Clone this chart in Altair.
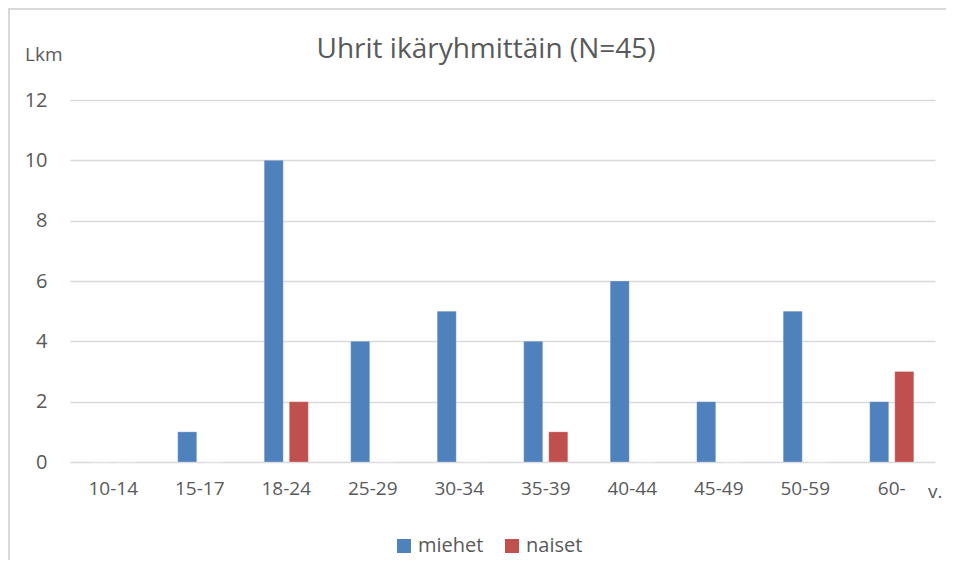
import altair as alt
import pandas as pd

categories = ["10-14", "15-17", "18-24", "25-29", "30-34", "35-39", "40-44", "45-49", "50-59", "60-"]
miehet = [0, 1, 10, 4, 5, 4, 6, 2, 5, 2]
naiset = [0, 0, 2, 0, 0, 1, 0, 0, 0, 3]
series = ["miehet", "naiset"]
colors = ["#4F81BD", "#C0504D"]
y_ticks = [0, 2, 4, 6, 8, 10, 12]
title_text = ["Uhrit ikäryhmittäin (N=45)"]

rows = []
for c, m, n in zip(categories, miehet, naiset):
    rows.append({"ika": c, "sarja": "miehet", "lkm": m})
    rows.append({"ika": c, "sarja": "naiset", "lkm": n})
df = pd.DataFrame(rows)

FONT = "Open Sans"
GRAY = "#595959"
GRID = "#D9D9D9"

bars = alt.Chart(df).mark_bar(stroke="#FFFFFF", strokeOpacity=0.25, strokeWidth=1).encode(
    x=alt.X("ika:N", sort=categories,
            scale=alt.Scale(paddingInner=0.49, paddingOuter=0.245),
            axis=alt.Axis(title=None, labelAngle=0, domain=False, ticks=False,
                          labelPadding=17, labelFontSize=19, labelColor=GRAY,
                          labelFont=FONT)),
    xOffset=alt.XOffset("sarja:N", sort=series,
                        scale=alt.Scale(paddingInner=0.24, paddingOuter=0)),
    y=alt.Y("lkm:Q", scale=alt.Scale(domain=[0, 12]),
            axis=alt.Axis(title=None, values=y_ticks, grid=True, gridColor=GRID,
                          gridWidth=1.5, domain=False, ticks=False, labelPadding=23,
                          labelFontSize=20, labelColor=GRAY, labelFont=FONT)),
    color=alt.Color("sarja:N", sort=series,
                    scale=alt.Scale(domain=series, range=colors),
                    legend=alt.Legend(title=None, orient="none", legendX=324, legendY=436,
                                      direction="horizontal", symbolType="square",
                                      symbolSize=196, symbolStrokeWidth=0,
                                      labelFontSize=20, labelColor=GRAY, labelFont=FONT,
                                      columnPadding=18, labelOffset=4)),
)

title = alt.Chart(pd.DataFrame({"t": title_text})).mark_text(
    font=FONT, fontSize=28, color=GRAY, align="center", baseline="middle"
).encode(x=alt.value(416), y=alt.value(-50), text="t:N")

lkm = alt.Chart(pd.DataFrame({"t": ["Lkm"]})).mark_text(
    font=FONT, fontSize=19, color=GRAY, align="left", baseline="middle"
).encode(x=alt.value(-45), y=alt.value(-45), text="t:N")

v = alt.Chart(pd.DataFrame({"t": ["v."]})).mark_text(
    font=FONT, fontSize=19, color=GRAY, align="left", baseline="middle"
).encode(x=alt.value(858), y=alt.value(30 + 362), text="t:N")

border = alt.Chart(pd.DataFrame({"a": [0]})).mark_rect(
    fill=None, fillOpacity=0, stroke=GRID, strokeWidth=2
).encode(x=alt.value(-61), x2=alt.value(900), y=alt.value(-91), y2=alt.value(520))

chart = alt.layer(bars, title, lkm, v, border).properties(
    width=865, height=362,
    autosize=alt.AutoSizeParams(type="none"),
    padding={"left": 62, "top": 92, "right": 11, "bottom": 98},
).configure_view(stroke=None)

chart.save("out.html", embed_options={"renderer": "svg", "actions": False})
